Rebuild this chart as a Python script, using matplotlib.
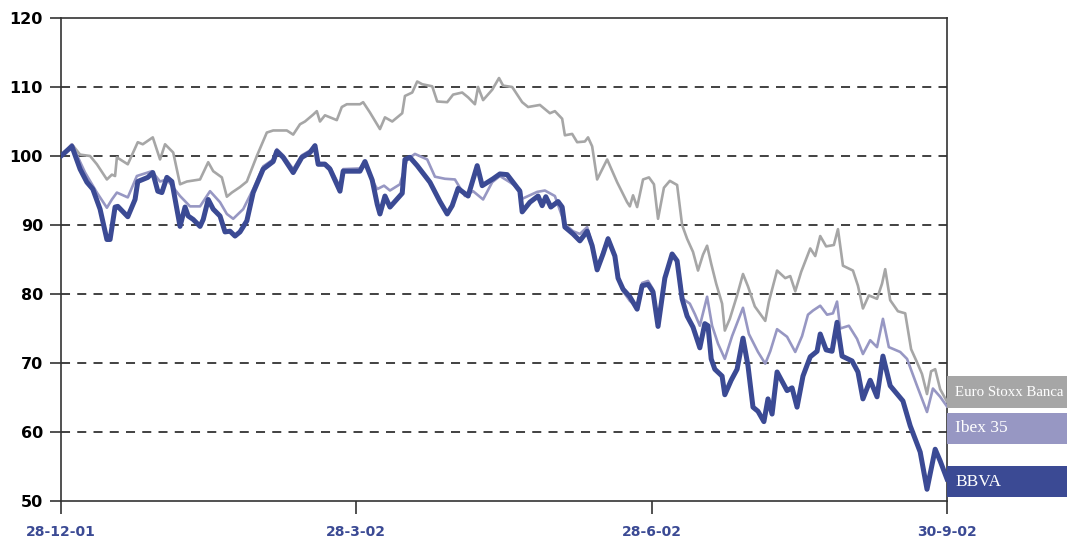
import matplotlib.pyplot as plt
from matplotlib.patches import Rectangle

# Index base 100 on 28-12-01, x = trading session number
tick_days = [0, 65, 130, 195]
tick_labels = ['28-12-01', '28-3-02', '28-6-02', '30-9-02']

stoxx_days = [0, 2.4, 4.2, 6.4, 7.9, 10.1, 11.2, 11.9, 12.3, 14.7, 16.9, 18.0, 20.2, 21.8, 22.9,
              24.7, 26.2, 27.7, 30.6, 32.4, 33.5, 35.4, 36.5, 37.6, 39.4, 40.9, 43.1, 45.3, 46.7,
              49.7, 51.1, 52.6, 53.7, 55.5, 56.3, 57.0, 58.1, 60.7, 61.8, 62.9, 65.8, 66.5, 68.0,
              70.2, 71.3, 72.9, 75.1, 75.7, 77.3, 78.4, 79.5, 81.7, 82.8, 85.0, 86.3, 88.3, 89.6,
              91.1, 91.8, 92.9, 94.9, 96.4, 97.3, 99.3, 101.5, 102.8, 105.4, 107.6, 108.7, 110.3,
              110.9, 112.5, 113.6, 115.3, 116.0, 116.9, 118.0, 120.2, 122.4, 124.6, 125.2, 125.9,
              126.8, 128.1, 129.4, 130.5, 131.4, 132.7, 134.0, 135.6, 136.7, 137.8, 139.1, 140.2,
              141.3, 142.2, 143.1, 144.2, 145.5, 146.1, 147.2, 148.8, 150.1, 151.2, 152.7, 155.0,
              155.8, 157.6, 159.4, 160.5, 161.6, 162.9, 164.9, 166.0, 167.1, 168.4, 170.1, 171.0,
              172.1, 174.3, 175.4, 176.5, 177.8, 179.6, 180.7, 181.4, 182.5, 184.2, 185.8, 187.1,
              188.4, 189.5, 190.6, 191.5, 192.4, 193.5, 195.0]
stoxx = [100.0, 101.7, 100.2, 100.0, 98.8, 96.6, 97.3, 97.1, 99.8, 98.8, 102.0, 101.7, 102.7, 99.5,
         101.7, 100.5, 95.9, 96.3, 96.6, 99.1, 97.8, 96.9, 94.1, 94.7, 95.5, 96.3, 100.0, 103.4,
         103.7, 103.7, 103.1, 104.6, 105.0, 106.0, 106.5, 105.0, 105.9, 105.2, 107.1, 107.5, 107.5,
         107.8, 106.3, 103.9, 105.6, 105.0, 106.2, 108.7, 109.2, 110.8, 110.4, 110.1, 107.9, 107.8,
         108.9, 109.2, 108.5, 107.5, 110.0, 108.1, 109.6, 111.3, 110.2, 110.0, 107.8, 107.1, 107.4,
         106.2, 106.5, 105.4, 103.0, 103.2, 102.0, 102.1, 102.7, 101.4, 96.6, 99.5, 96.2, 93.3,
         92.7, 94.3, 92.6, 96.6, 96.9, 95.9, 90.9, 95.4, 96.4, 95.8, 90.0, 88.0, 86.1, 83.4, 85.7,
         87.0, 84.4, 81.5, 78.6, 74.7, 76.4, 79.8, 82.9, 81.1, 78.2, 76.1, 78.9, 83.4, 82.3, 82.6,
         80.4, 83.2, 86.6, 85.5, 88.4, 86.9, 87.1, 89.4, 84.1, 83.4, 81.2, 77.9, 79.8, 79.3, 81.5,
         83.6, 79.1, 77.5, 77.2, 72.0, 70.1, 68.4, 65.5, 68.8, 69.1, 66.2, 64.4]

ibex_days = [0, 2.4, 5.3, 7.9, 10.1, 11.2, 12.3, 14.7, 16.7, 20.0, 21.8, 23.3, 26.2, 28.4, 30.6,
             32.8, 35.0, 36.5, 37.9, 40.1, 42.3, 44.5, 46.7, 47.5, 48.9, 51.1, 53.0, 54.8, 55.9,
             56.6, 58.1, 59.2, 61.4, 62.1, 65.8, 66.9, 68.5, 69.6, 71.1, 72.4, 74.6, 76.2, 77.9,
             80.6, 82.3, 84.5, 86.7, 88.9, 90.7, 92.9, 94.9, 96.6, 98.8, 101.0, 101.5, 104.8,
             106.5, 108.7, 110.9, 112.7, 114.2, 115.8, 116.9, 118.0, 119.3, 120.4, 121.9, 122.6,
             123.7, 125.2, 126.8, 127.9, 129.2, 130.3, 131.4, 132.9, 134.5, 135.6, 136.9, 138.4,
             139.5, 140.6, 142.2, 143.3, 144.6, 146.1, 147.7, 150.1, 151.4, 153.4, 155.0, 156.1,
             157.6, 159.8, 161.6, 163.1, 164.4, 165.5, 167.1, 168.6, 169.9, 170.8, 171.5, 173.4,
             175.2, 176.5, 178.1, 179.6, 180.9, 182.2, 184.7, 186.2, 188.4, 190.6, 191.9, 193.5,
             195.0]
ibex = [100.0, 101.7, 97.6, 94.7, 92.5, 93.7, 94.7, 94.0, 97.1, 97.8, 96.3, 96.6, 94.2, 92.7, 92.7,
        94.9, 93.3, 91.6, 90.9, 92.3, 95.2, 98.5, 99.5, 101.0, 100.1, 98.1, 100.1, 100.8, 101.6,
        99.0, 99.0, 98.4, 95.5, 98.1, 98.2, 99.2, 96.5, 95.2, 95.7, 95.0, 95.9, 99.5, 100.3, 99.5,
        97.0, 96.7, 96.6, 94.2, 94.9, 93.7, 96.2, 97.1, 96.2, 95.2, 93.8, 94.8, 95.0, 94.2, 90.1,
        89.1, 88.7, 89.7, 87.2, 83.9, 86.2, 88.2, 85.7, 82.7, 80.4, 79.0, 78.1, 81.6, 81.9, 80.7,
        76.1, 82.5, 85.8, 84.8, 79.3, 78.6, 77.1, 75.4, 79.6, 75.4, 72.8, 70.6, 73.9, 78.0, 74.2,
        71.6, 69.9, 71.7, 74.9, 73.8, 71.6, 73.9, 77.0, 77.6, 78.3, 77.0, 77.2, 78.9, 75.0, 75.4,
        73.5, 71.3, 73.3, 72.3, 76.4, 72.3, 71.6, 70.6, 66.7, 62.9, 66.3, 65.1, 63.7]

bbva_days = [0, 2.4, 4.2, 5.7, 7.0, 8.6, 10.1, 10.8, 11.4, 11.9, 12.5, 14.7, 16.3, 16.9, 19.1, 20.2,
             21.3, 22.2, 23.3, 24.4, 26.2, 27.3, 28.0, 29.1, 30.6, 31.3, 32.4, 33.5, 35.0, 36.1,
             37.2, 38.3, 39.4, 40.9, 42.3, 44.5, 46.7, 47.5, 48.9, 51.1, 53.0, 54.8, 55.9, 56.6,
             58.1, 59.2, 61.4, 62.1, 65.8, 66.9, 68.5, 69.6, 70.2, 71.3, 72.4, 75.1, 75.7, 76.8,
             78.4, 81.2, 83.4, 85.0, 86.1, 87.4, 89.6, 91.6, 92.7, 95.1, 96.6, 98.2, 101.0, 101.5,
             103.2, 105.0, 105.9, 106.7, 107.8, 109.4, 110.3, 110.9, 112.7, 114.2, 115.8, 116.9,
             118.0, 119.3, 120.4, 121.9, 122.6, 123.7, 125.2, 126.8, 127.9, 129.2, 130.3, 131.4,
             132.9, 134.5, 135.6, 136.7, 137.8, 139.1, 140.6, 141.7, 142.4, 143.1, 143.9, 145.5,
             146.1, 147.5, 148.8, 150.1, 151.2, 152.3, 153.4, 154.7, 155.6, 156.5, 157.6, 159.8,
             160.9, 162.0, 163.3, 164.9, 166.4, 167.1, 168.4, 169.7, 170.8, 171.9, 174.1, 175.4,
             176.5, 178.1, 179.6, 180.9, 182.5, 185.3, 186.9, 189.1, 190.6, 192.4, 193.5, 195.0]
bbva = [100.0, 101.4, 98.1, 96.2, 95.2, 92.3, 87.9, 87.9, 90.5, 92.6, 92.7, 91.2, 93.7, 96.3, 96.9,
        97.6, 94.9, 94.7, 96.9, 96.3, 89.8, 92.6, 91.3, 90.8, 89.8, 90.8, 93.7, 92.3, 91.3, 89.0,
        89.1, 88.4, 89.0, 90.6, 94.7, 98.1, 99.2, 100.7, 99.8, 97.6, 99.8, 100.5, 101.5, 98.8, 98.8,
        98.1, 94.9, 97.8, 97.8, 99.2, 96.5, 93.0, 91.6, 94.2, 92.6, 94.6, 99.5, 99.8, 98.6, 96.2,
        93.4, 91.6, 92.8, 95.3, 94.2, 98.6, 95.7, 96.7, 97.4, 97.3, 94.9, 91.9, 93.3, 94.2, 92.8,
        94.1, 92.6, 93.4, 92.6, 89.7, 88.7, 87.7, 89.1, 87.0, 83.5, 85.8, 88.0, 85.5, 82.3, 80.7,
        79.6, 77.8, 81.2, 81.4, 80.3, 75.3, 82.3, 85.8, 84.8, 79.3, 76.8, 75.2, 72.2, 75.7, 75.4,
        70.6, 69.1, 68.1, 65.4, 67.5, 69.1, 73.6, 69.6, 63.6, 63.0, 61.5, 64.8, 62.6, 68.7, 66.0,
        66.4, 63.6, 68.1, 70.9, 71.7, 74.2, 71.9, 71.7, 75.9, 71.0, 70.3, 68.7, 64.8, 67.5, 65.1,
        71.0, 66.7, 64.5, 60.9, 57.1, 51.7, 57.5, 55.8, 53.2]

# the first label is cut by the page edge in the source; keep the visible part
series_names = ['Euro Stoxx Banca', 'Ibex 35', 'BBVA']
series_colors = ['#a6a6a6', '#9797c3', '#3b4a94']
label_sizes = [10.7, 12.5, 12.5]

W, H = 1067, 542
fig = plt.figure(figsize=(W / 100, H / 100), dpi=100)
ax = fig.add_axes([61 / W, 1 - 501 / H, (947 - 61) / W, (501 - 18) / H])

ax.plot(stoxx_days, stoxx, color=series_colors[0], lw=1.9, zorder=3)
ax.plot(ibex_days, ibex, color=series_colors[1], lw=1.9, zorder=4)
ax.plot(bbva_days, bbva, color=series_colors[2], lw=3.6, zorder=5,
        solid_joinstyle='round')

ax.set_xlim(0, 195)
ax.set_ylim(50, 120)
ax.set_yticks(range(50, 121, 10))
ax.set_xticks(tick_days)
ax.set_xticklabels(tick_labels)

for v in range(60, 120, 10):
    ax.axhline(v, color='#333333', lw=1.3, ls=(0, (5, 4)), zorder=1)

for s in ax.spines.values():
    s.set_color('#333333')
    s.set_linewidth(1.2)

ax.tick_params(axis='y', direction='out', length=8, width=1.2, color='#333333', pad=5,
               labelsize=11.5)
ax.tick_params(axis='x', direction='out', length=9, width=1.2, color='#333333', pad=8,
               labelsize=10, labelcolor='#3b4a94')
for lab in ax.get_yticklabels() + ax.get_xticklabels():
    lab.set_fontweight('bold')

# label boxes on the right
box_tops = [376, 413, 466]
box_bottoms = [408, 444, 497]
for name, col, top, bot, fs in zip(series_names, series_colors, box_tops, box_bottoms, label_sizes):
    fig.patches.append(Rectangle((947 / W, 1 - bot / H), (W - 947) / W, (bot - top) / H,
                                 transform=fig.transFigure, facecolor=col, edgecolor='none'))
    fig.text(955 / W, 1 - (top + bot) / 2 / H, name, color='white', fontsize=fs,
             family='Liberation Serif', va='center', ha='left')

fig.savefig('out.png', dpi=100)
